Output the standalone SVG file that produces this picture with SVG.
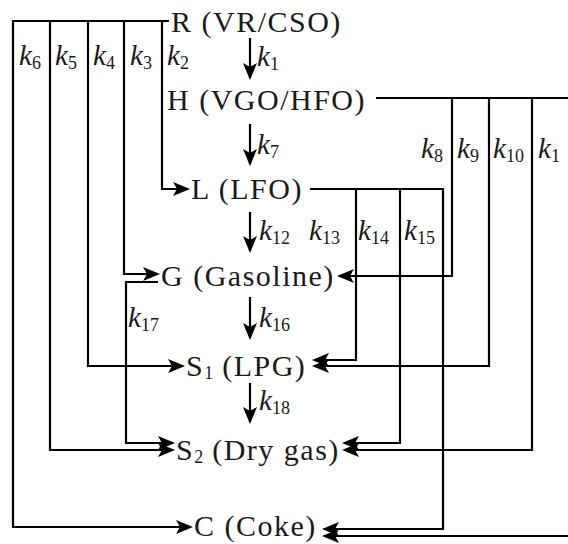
<svg xmlns="http://www.w3.org/2000/svg" width="568" height="544" viewBox="0 0 568 544">
<style>
.n{font-family:"Liberation Serif","Times New Roman",serif;font-size:30px;letter-spacing:1.5px;fill:#1a1a1a}
.k{font-family:"Liberation Serif","Times New Roman",serif;font-size:29px;font-style:italic;fill:#1a1a1a}
.s{font-size:18px;font-style:normal;letter-spacing:0}
.c{fill:none;stroke:#000;stroke-width:2.2}
.a{marker-end:url(#ah)}
</style>
<defs>
<marker id="ah" viewBox="0 0 17 14" markerWidth="17" markerHeight="14" refX="15" refY="7" orient="auto" markerUnits="userSpaceOnUse">
<path d="M0,0 L17,7 L0,14 L4,7 Z" fill="#000"/>
</marker>
</defs>
<rect width="568" height="544" fill="#fff"/>
<g id="connectors">
<path class="c a" d="M169,21 H13 V527 H191"/>
<path class="c a" d="M50,21 V450 H173"/>
<path class="c a" d="M88,21 V366 H183"/>
<path class="c a" d="M124,21 V274 H158"/>
<path class="c a" d="M162,21 V189 H188"/>
<path class="c a" d="M158,282 H126 V443 H173"/>
<path class="c a" d="M250,38 V78"/>
<path class="c a" d="M250,124 V164"/>
<path class="c a" d="M250,212 V251"/>
<path class="c a" d="M250,297 V338"/>
<path class="c a" d="M250,383 V422"/>
<path class="c a" d="M376,98 H571 V536 H324"/>
<path class="c a" d="M452,98 V276 H339"/>
<path class="c a" d="M489,98 V366 H314"/>
<path class="c a" d="M532,98 V450 H344"/>
<path class="c a" d="M310,189 H443 V529 H324"/>
<path class="c a" d="M356,189 V360 H314"/>
<path class="c a" d="M400,189 V443 H344"/>
</g>
<g id="R"><text class="n" x="171" y="32">R (VR/CSO)</text></g>
<g id="H"><text class="n" x="167" y="110">H (VGO/HFO)</text></g>
<g id="L"><text class="n" x="191" y="199">L (LFO)</text></g>
<g id="G"><text class="n" x="161" y="286">G (Gasoline)</text></g>
<g id="S1"><text class="n" x="186" y="376">S<tspan class="s" dy="3">1</tspan><tspan dy="-3"> (LPG)</tspan></text></g>
<g id="S2"><text class="n" x="176" y="460">S<tspan class="s" dy="3">2</tspan><tspan dy="-3"> (Dry gas)</tspan></text></g>
<g id="C"><text class="n" x="194" y="536">C (Coke)</text></g>
<g id="labels">
<text class="k" x="257" y="66">k<tspan class="s" dy="4">1</tspan></text>
<text class="k" x="167" y="65">k<tspan class="s" dy="4">2</tspan></text>
<text class="k" x="130" y="65">k<tspan class="s" dy="4">3</tspan></text>
<text class="k" x="93" y="65">k<tspan class="s" dy="4">4</tspan></text>
<text class="k" x="55" y="65">k<tspan class="s" dy="4">5</tspan></text>
<text class="k" x="19" y="65">k<tspan class="s" dy="4">6</tspan></text>
<text class="k" x="257" y="154">k<tspan class="s" dy="4">7</tspan></text>
<text class="k" x="421" y="158">k<tspan class="s" dy="4">8</tspan></text>
<text class="k" x="457" y="158">k<tspan class="s" dy="4">9</tspan></text>
<text class="k" x="493" y="158">k<tspan class="s" dy="4">10</tspan></text>
<text class="k" x="538" y="158">k<tspan class="s" dy="4">1</tspan></text>
<text class="k" x="259" y="240">k<tspan class="s" dy="4">12</tspan></text>
<text class="k" x="309" y="240">k<tspan class="s" dy="4">13</tspan></text>
<text class="k" x="358" y="240">k<tspan class="s" dy="4">14</tspan></text>
<text class="k" x="404" y="240">k<tspan class="s" dy="4">15</tspan></text>
<text class="k" x="259" y="327">k<tspan class="s" dy="4">16</tspan></text>
<text class="k" x="128" y="327">k<tspan class="s" dy="4">17</tspan></text>
<text class="k" x="259" y="410">k<tspan class="s" dy="4">18</tspan></text>
</g>
</svg>
